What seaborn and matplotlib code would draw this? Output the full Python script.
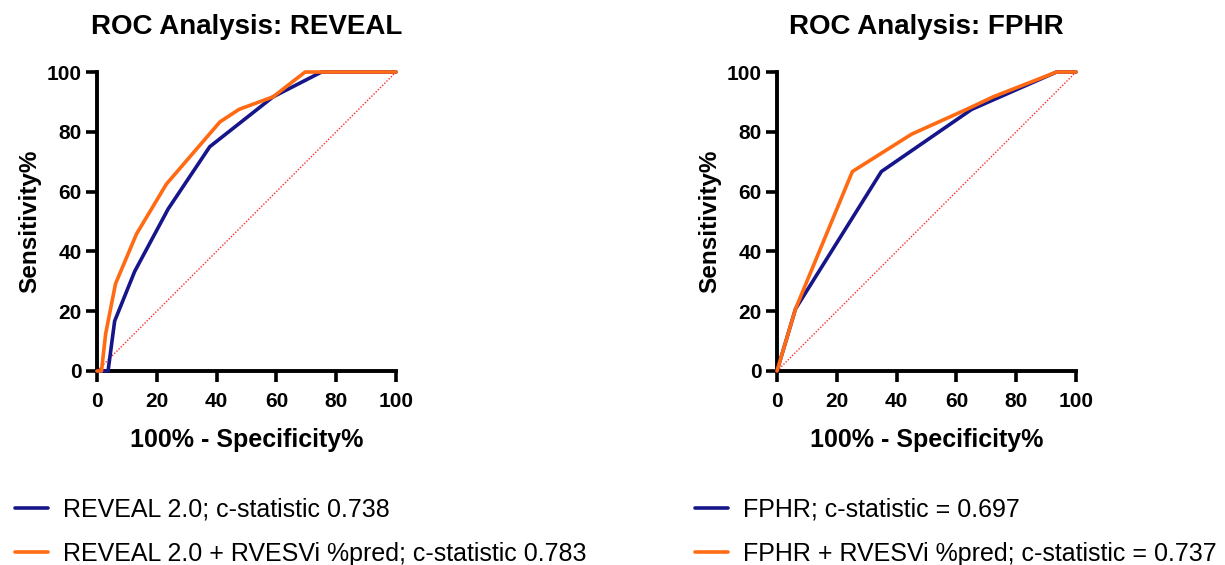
import numpy as np
import pandas as pd
import matplotlib
matplotlib.use("Agg")
import matplotlib.pyplot as plt
import seaborn as sns

# ---- data ----
reveal_fpr = [0, 3.7, 5.9, 12.6, 23.8, 37.7, 58.9, 75.1, 100]
reveal_tpr = [0, 0, 16.7, 33.3, 54.2, 75.0, 91.7, 100, 100]
reveal_rv_fpr = [0, 1.5, 2.9, 6.2, 13.2, 23.2, 41.1, 47.5, 58.9, 69.6, 100]
reveal_rv_tpr = [0, 0, 12.5, 29.2, 45.8, 62.5, 83.3, 87.5, 91.7, 100, 100]

fphr_fpr = [0, 6.2, 34.9, 65.1, 93.5, 100]
fphr_tpr = [0, 20.8, 66.7, 87.5, 100, 100]
fphr_rv_fpr = [0, 6.2, 25.2, 45.0, 63.4, 72.3, 93.5, 100]
fphr_rv_tpr = [0, 20.8, 66.7, 79.2, 87.5, 91.7, 100, 100]

left_labels = ["REVEAL 2.0; c-statistic 0.738",
               "REVEAL 2.0 + RVESVi %pred; c-statistic 0.783"]
right_labels = ["FPHR; c-statistic = 0.697",
                "FPHR + RVESVi %pred; c-statistic = 0.737"]
titles = ["ROC Analysis: REVEAL", "ROC Analysis: FPHR"]
ticks = [0, 20, 40, 60, 80, 100]
diag = [0, 100]

NAVY = "#16168a"
ORANGE = "#ff6a13"

sns.set_theme(style="ticks")
plt.rcParams['font.family'] = ['Liberation Sans', 'DejaVu Sans']
for k in ["text.color", "axes.labelcolor", "xtick.color", "ytick.color", "axes.edgecolor"]:
    plt.rcParams[k] = "black"

fig = plt.figure(figsize=(12.25, 5.65), dpi=100)
ax_l = fig.add_axes([97/1225, 1-371/565, 299/1225, 299/565])
ax_r = fig.add_axes([777/1225, 1-371/565, 299/1225, 299/565])


def make_df(fpr, tpr, label):
    return pd.DataFrame({"fpr": fpr, "tpr": tpr, "model": label})


panels = [
    (ax_l, reveal_fpr, reveal_tpr, reveal_rv_fpr, reveal_rv_tpr, left_labels, titles[0], 15/1225),
    (ax_r, fphr_fpr, fphr_tpr, fphr_rv_fpr, fphr_rv_tpr, right_labels, titles[1], 695/1225),
]

for ax, f1, t1, f2, t2, labels, title, legx in panels:
    df = pd.concat([make_df(f1, t1, labels[0]), make_df(f2, t2, labels[1])])
    ax.plot(diag, diag, color="#ff2a2a", lw=1.0, ls=(0, (1, 1.2)), zorder=1, clip_on=False)
    sns.lineplot(data=df, x="fpr", y="tpr", hue="model", sort=False, estimator=None,
                 palette=[NAVY, ORANGE], lw=2.6, ax=ax, legend=False, clip_on=False, zorder=3)
    ax.set_xlim(0, 100)
    ax.set_ylim(0, 100)
    ax.set_xticks(ticks)
    ax.set_yticks(ticks)
    ax.tick_params(width=2.6, length=8, labelsize=15, color="black", labelcolor="black")
    ax.tick_params(axis="x", pad=7)
    ax.tick_params(axis="y", pad=3)
    for lab in ax.get_xticklabels() + ax.get_yticklabels():
        lab.set_fontweight("bold")
    for s in ["left", "bottom"]:
        ax.spines[s].set_linewidth(2.8)
        ax.spines[s].set_color("black")
    sns.despine(ax=ax)
    ax.set_xlabel("100% - Specificity%", fontsize=18, fontweight="bold", labelpad=12)
    ax.set_ylabel("Sensitivity%", fontsize=17.5, fontweight="bold", labelpad=4)
    ax.set_title(title, fontsize=20, fontweight="bold", pad=27.5)
    handles = [plt.Line2D([], [], color=NAVY, lw=2.6), plt.Line2D([], [], color=ORANGE, lw=2.6)]
    fig.legend(handles, labels, loc="upper left", bbox_to_anchor=(legx, 1-498/565),
               frameon=False, fontsize=18, handlelength=1.32, handletextpad=0.6,
               labelspacing=0.78, borderpad=0, borderaxespad=0)

fig.savefig("out.png", dpi=100)
